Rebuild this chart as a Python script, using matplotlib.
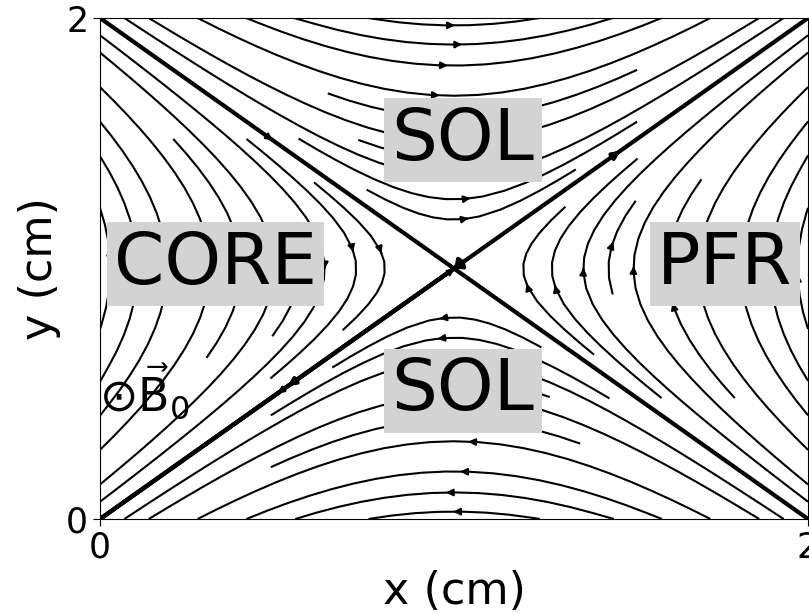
import numpy as np
import matplotlib
matplotlib.use('Agg')
import matplotlib.pyplot as plt

# domain and X-point location (cm)
x_lim = [0, 2]
y_lim = [0, 2]
x_point = (1.0, 1.0)
n_grid = 101

# separatrix seed points, one per leg
sep_seeds_x = [0.5, 1.5, 0.5, 1.5]
sep_seeds_y = [0.5, 1.5, 1.5, 0.5]

# region labels
region_names = ['SOL', 'SOL', 'CORE', 'PFR']
region_x = [1.025, 1.025, 0.327, 1.765]
region_y = [1.513, 0.511, 1.018, 1.018]

x = np.linspace(x_lim[0], x_lim[1], n_grid)
y = np.linspace(y_lim[0], y_lim[1], n_grid)
X, Y = np.meshgrid(x, y)
Bx = Y - x_point[1]
By = X - x_point[0]

fig = plt.figure(figsize=(8.09, 6.15), dpi=100)
ax = fig.add_axes([0.1236, 0.1561, 0.8752, 0.8146])

ax.streamplot(X, Y, Bx, By, color='k', linewidth=1.5, density=1.0, arrowsize=1.0)
seeds = np.column_stack([sep_seeds_x, sep_seeds_y])
ax.streamplot(X, Y, Bx, By, color='k', linewidth=3, start_points=seeds,
              arrowsize=1.0, broken_streamlines=False)

for name, tx, ty in zip(region_names, region_x, region_y):
    ax.text(tx, ty, name, fontsize=52, ha='center', va='center',
            bbox=dict(facecolor='lightgray', edgecolor='none', pad=5))

ax.text(-0.003, 0.507, r'$\odot\vec{\mathrm{B}}_0$', fontsize=33, ha='left', va='center')

ax.set_xlim(x_lim)
ax.set_ylim(y_lim)
ax.set_xticks(x_lim)
ax.set_yticks(y_lim)
ax.tick_params(labelsize=25, length=5)
ax.set_xlabel('x (cm)', fontsize=32)
ax.set_ylabel('y (cm)', fontsize=32)

fig.savefig('out.png', dpi=100)
